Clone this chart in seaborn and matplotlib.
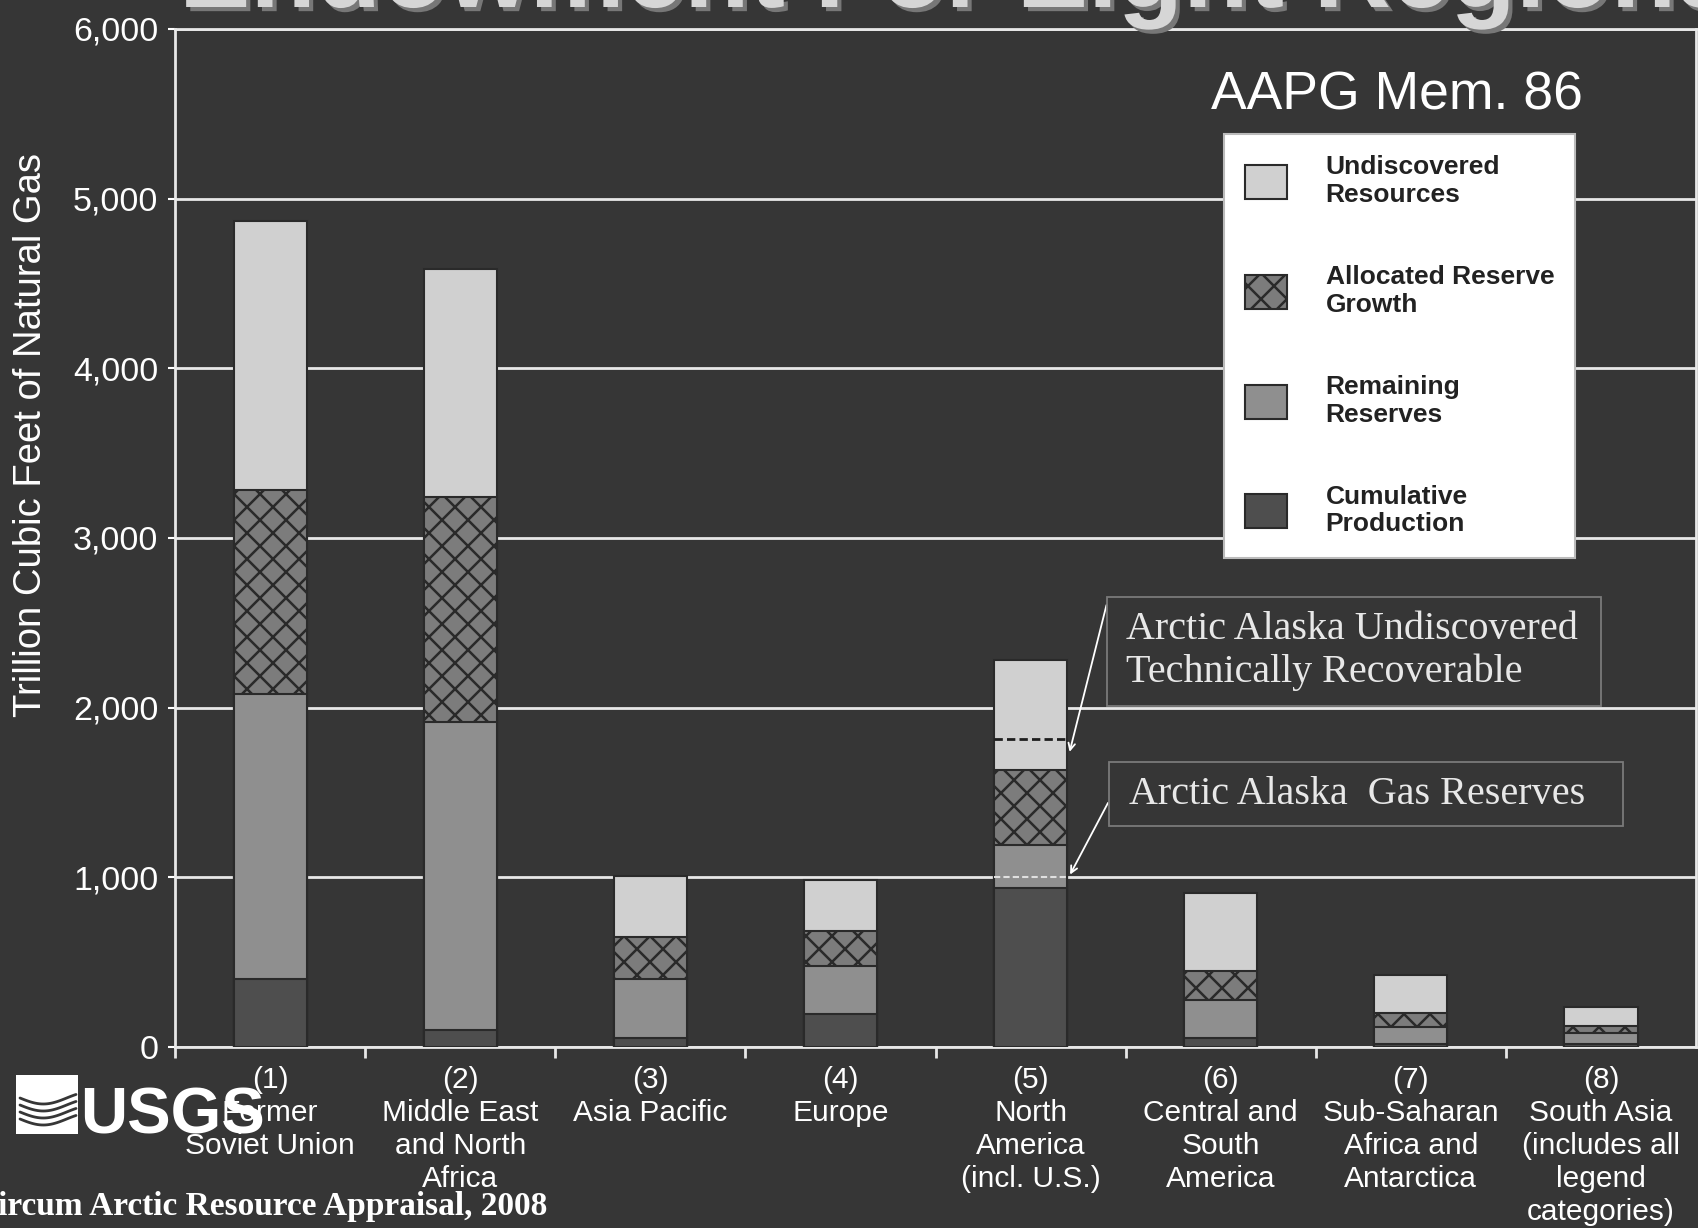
import matplotlib
matplotlib.use("Agg")
import matplotlib.pyplot as plt
import seaborn as sns
import pandas as pd
import numpy as np
from matplotlib.patches import Patch, Rectangle
from matplotlib.lines import Line2D
import matplotlib.patheffects as pe

# ---------------- data ----------------
regions = [
    "(1)\nFormer\nSoviet Union",
    "(2)\nMiddle East\nand North\nAfrica",
    "(3)\nAsia Pacific",
    "(4)\nEurope",
    "(5)\nNorth\nAmerica\n(incl. U.S.)",
    "(6)\nCentral and\nSouth\nAmerica",
    "(7)\nSub-Saharan\nAfrica and\nAntarctica",
    "(8)\nSouth Asia\n(includes all\nlegend\ncategories)",
]
cumulative_production = [400, 100, 55, 195, 940, 55, 15, 20]
remaining_reserves = [1680, 1813, 345, 280, 250, 222, 100, 65]
allocated_reserve_growth = [1200, 1326, 250, 210, 440, 170, 85, 40]
undiscovered_resources = [1590, 1346, 360, 300, 650, 462, 225, 108]

yticks = [0, 1000, 2000, 3000, 4000, 5000, 6000]
ytick_labels = ["0", "1,000", "2,000", "3,000", "4,000", "5,000", "6,000"]

legend_labels = ["Undiscovered\nResources", "Allocated Reserve\nGrowth",
                 "Remaining\nReserves", "Cumulative\nProduction"]

arctic_region_index = 4
arctic_undiscovered_level = 1817
arctic_reserves_level = 1000

# ---------------- style ----------------
DPI = 78                     # chosen so the cross-hatch matches the reference density
K = 100 / DPI                # point-size factor so pixel sizes stay as designed
def P(v):
    return v * K

BG = "#363636"
C_UND = "#d0d0d0"
C_GRO = "#7c7c7c"
C_REM = "#8f8f8f"
C_CUM = "#4e4e4e"
EDGE = "#2a2a2a"
BAR_W = 0.385

sns.set_theme(style="dark")
plt.rcParams["font.family"] = ["Liberation Sans", "DejaVu Sans"]
plt.rcParams["hatch.linewidth"] = P(1.8)

fig = plt.figure(figsize=(1698 / DPI, 1228 / DPI), dpi=DPI, facecolor=BG)
ax = fig.add_axes([0.1031, 0.1474, 0.8957, 0.829])
ax.set_facecolor(BG)

df = pd.DataFrame({
    "region": regions,
    "cum": cumulative_production,
    "rem": remaining_reserves,
    "gro": allocated_reserve_growth,
    "und": undiscovered_resources,
})
df["top_cum"] = df["cum"]
df["top_rem"] = df["top_cum"] + df["rem"]
df["top_gro"] = df["top_rem"] + df["gro"]
df["top_und"] = df["top_gro"] + df["und"]

layers = [("top_und", C_UND, None), ("top_gro", C_GRO, "x"),
          ("top_rem", C_REM, None), ("top_cum", C_CUM, None)]
for col, colr, hatch in layers:
    sns.barplot(data=df, x="region", y=col, order=regions, color=colr,
                saturation=1, width=BAR_W, errorbar=None, ax=ax,
                edgecolor=EDGE, linewidth=P(1.5), hatch=hatch, zorder=3)

# Arctic Alaska marker lines inside bar 5
x0 = arctic_region_index - BAR_W / 2
x1 = arctic_region_index + BAR_W / 2
ax.hlines(arctic_undiscovered_level, x0, x1, colors="#1e1e1e",
          linestyles=(0, (3, 1.5)), lw=P(2), zorder=5)
ax.hlines(arctic_reserves_level, x0, x1, colors="#e0e0e0",
          linestyles=(0, (3, 1.5)), lw=P(1.5), zorder=5)

# axes styling
ax.set_xlim(-0.5, len(regions) - 0.5)
ax.set_ylim(0, 6000)
ax.set_yticks(yticks)
ax.set_yticklabels(ytick_labels)
ax.yaxis.grid(True, color="#e8e8e8", lw=P(2))
ax.xaxis.grid(False)
ax.set_axisbelow(True)
for s in ax.spines.values():
    s.set_visible(True)
    s.set_color("#e8e8e8")
    s.set_linewidth(P(2))
ax.tick_params(axis="y", colors="white", labelsize=P(24.5), length=P(5),
               width=P(1.5), left=True, pad=P(7))
ax.tick_params(axis="x", which="major", colors="white", labelsize=P(21.5),
               length=0, pad=P(14))
ax.set_xticks(np.arange(len(regions)) - 0.5, minor=True)
ax.tick_params(axis="x", which="minor", bottom=True, length=P(8), width=P(2),
               color="#e8e8e8")
ax.set_xlabel("")
ax.set_ylabel("Trillion Cubic Feet of Natural Gas", color="white",
              fontsize=P(27.5))
ax.yaxis.set_label_coords(-0.083, 0.601)
for lab in ax.get_xticklabels():
    lab.set_linespacing(1.22)

# legend
handles = [
    Patch(facecolor=C_UND, edgecolor=EDGE, lw=P(1.5)),
    Patch(facecolor=C_GRO, edgecolor=EDGE, lw=P(1.5), hatch="x"),
    Patch(facecolor=C_REM, edgecolor=EDGE, lw=P(1.5)),
    Patch(facecolor=C_CUM, edgecolor=EDGE, lw=P(1.5)),
]
leg = ax.legend(handles, legend_labels, loc="upper left",
                bbox_to_anchor=(1224 / 1698, 1 - 134 / 1228),
                bbox_transform=fig.transFigure, borderaxespad=0,
                frameon=True, fancybox=False, framealpha=1,
                facecolor="white", edgecolor="#bbbbbb",
                prop={"weight": "bold", "size": P(19)},
                handlelength=1.6, handleheight=1.6, handletextpad=1.45,
                labelspacing=2.2, borderpad=0.8)
leg.get_frame().set_linewidth(P(1.5))
for t in leg.get_texts():
    t.set_color("#222222")
leg.set_zorder(10)

fig.text(1397 / 1698, 1 - 95 / 1228, "AAPG Mem. 86", color="white",
         fontsize=P(38.5), ha="center", va="center")

# Arctic Alaska annotation boxes
serif = ["Liberation Serif", "DejaVu Serif"]
fig.add_artist(Rectangle((1107 / 1698, 1 - 706 / 1228), 494 / 1698, 109 / 1228,
                         transform=fig.transFigure, fill=False,
                         edgecolor="#7a7a7a", lw=P(1.3)))
fig.text(1126 / 1698, 1 - 651 / 1228,
         "Arctic Alaska Undiscovered\nTechnically Recoverable",
         color="#e8e8e8", fontsize=P(28.9), family=serif, ha="left",
         va="center", linespacing=1.2)
fig.add_artist(Rectangle((1109 / 1698, 1 - 826 / 1228), 514 / 1698, 64 / 1228,
                         transform=fig.transFigure, fill=False,
                         edgecolor="#7a7a7a", lw=P(1.3)))
fig.text(1129 / 1698, 1 - 795 / 1228, "Arctic Alaska  Gas Reserves",
         color="#e8e8e8", fontsize=P(28.9), family=serif, ha="left",
         va="center")

ax.annotate("", xy=(x1 + 0.01, arctic_undiscovered_level - 90),
            xytext=(1107 / 1698, 1 - 603 / 1228), textcoords="figure fraction",
            arrowprops=dict(arrowstyle="->", color="white", lw=P(1.3),
                            mutation_scale=P(12)), zorder=6)
ax.annotate("", xy=(x1 + 0.01, arctic_reserves_level + 5),
            xytext=(1109 / 1698, 1 - 801 / 1228), textcoords="figure fraction",
            arrowprops=dict(arrowstyle="->", color="white", lw=P(1.3),
                            mutation_scale=P(12)), zorder=6)

# title (clipped at top of slide, as in the reference)
fig.text(179 / 1698, 1 - 7 / 1228, "Endowment For Eight Regions",
         color="#d6d6d6", fontsize=P(77), weight="bold", ha="left",
         va="baseline",
         path_effects=[pe.withSimplePatchShadow(offset=(P(3), -P(3)),
                                                 shadow_rgbFace="#777777",
                                                 alpha=1)])

# USGS logo
fig.add_artist(Rectangle((16 / 1698, 1 - 1134 / 1228), 62 / 1698, 59 / 1228,
                         transform=fig.transFigure, facecolor="white",
                         edgecolor="none"))
for k in range(4):
    xs = np.linspace(20, 76, 30)
    ys = 1098 + k * 7 + 6 * np.sin((xs - 20) / 56 * np.pi * 1.2)
    fig.add_artist(Line2D(xs / 1698, 1 - ys / 1228, transform=fig.transFigure,
                          color=BG, lw=P(2)))
fig.text(80 / 1698, 1 - 1133 / 1228, "USGS", color="white", fontsize=P(47),
         weight="bold", family=["Liberation Sans Narrow", "Liberation Sans"],
         ha="left", va="baseline")

fig.text(547 / 1698, 1 - 1207 / 1228, "Circum Arctic Resource Appraisal, 2008",
         color="white", fontsize=P(24), weight="bold", family=serif,
         ha="right", va="center")

fig.savefig("out.png", dpi=DPI, facecolor=BG)
